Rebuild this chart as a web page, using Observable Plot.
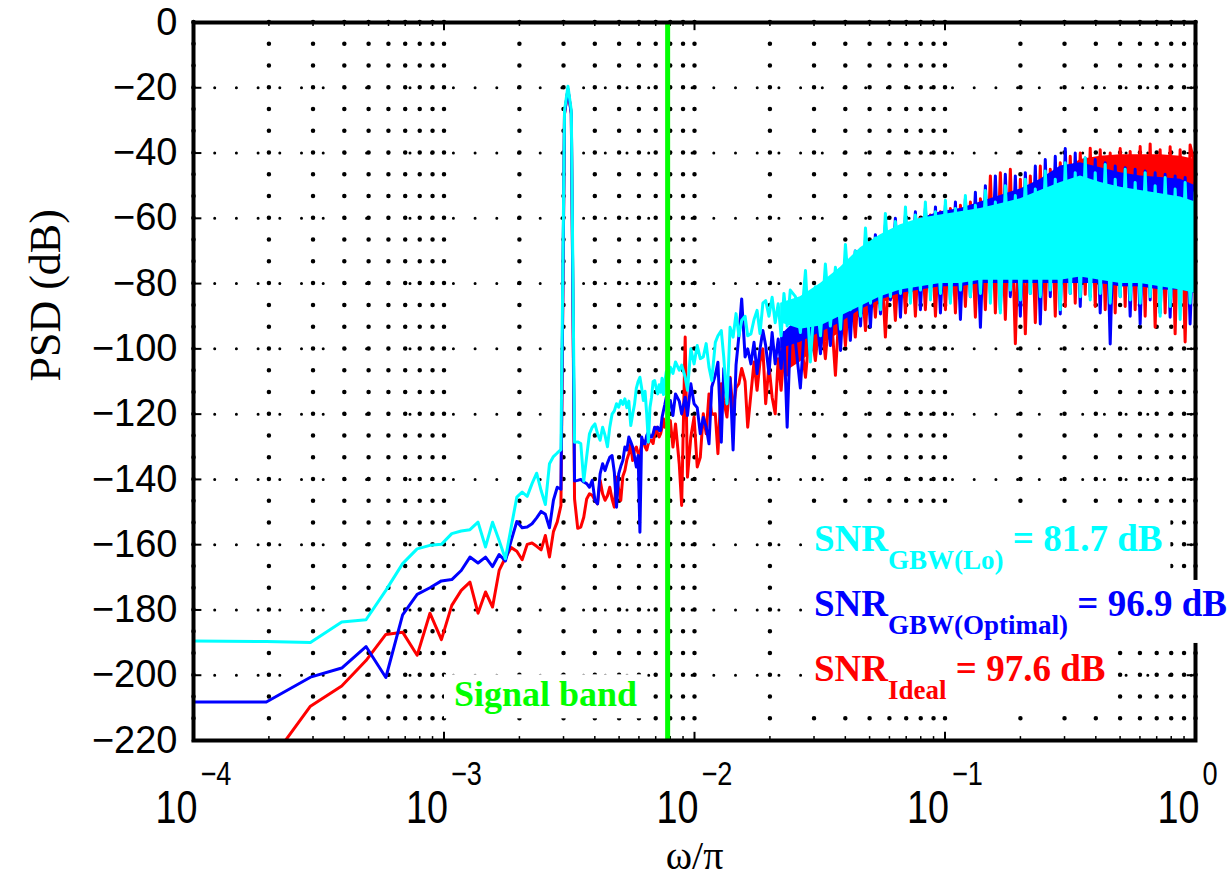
<!DOCTYPE html>
<html><head><meta charset="utf-8">
<script src="https://cdn.jsdelivr.net/npm/d3@7"></script>
<script src="https://cdn.jsdelivr.net/npm/@observablehq/plot@0.6"></script>
<style>body{margin:0;background:#fff}</style>
</head><body><div id="chart"></div>
<script>
// ---------- DATA ----------
const FFT_BINS = 10240;            // ω/π = bin / FFT_BINS
const signalBandEdge = 0.0078125;  // ω/π = 1/OSR
const yTicks = [0, -20, -40, -60, -80, -100, -120, -140, -160, -180, -200, -220];
const majorX = [1e-4, 1e-3, 1e-2, 1e-1, 1];
const xTickExponents = ["\u22124", "\u22123", "\u22122", "\u22121", "0"];

const binsLow = [1,2,3,4,5,6,7,8,9,10,11,12,13,14,15,16,17,18,19,20,21,22,23,24,25,26,27,28,29,30,
  31,32,33,34,35,36,37,38,39,40,41,42,43,44,45,46,47,48,49,50,51,52,53,54,55,56,57,58,59,60,
  61,62,63,64,65,66,67,68,69,70,71,72,73,74,75,76,77,78,79,80];
const binsMid = [82,84,86,89,91,94,96,99,102,105,108,111,114,117,120,124,127,131,134,138,142,146,150,154,158,
  163,167,172,177,182,187,192,197,203,209,215,221,227,233,240,247];
const binsDense = [259,271,284,297,311,326,341,357,374,392,410,429,449,471,493,516,540,566,592,620,
  649,680,712,745,780,817,855,896,938,982,1028,1076,1127,1180,1235,1293,1354,1418,1484,1554,
  1627,1703,1783,1867,1955,2047,2143,2243,2349,2459,2574,2695,2822,2954,3093,3238,3390,3550,3716,3891,
  4074,4265,4465,4675,4895,5125,5365,5617,5881,6158,6447,6750,7067,7399,7747,8111,8492,8891,9309,9746,10204];
const bandBins = [226,271,326,392,471,566,680,818,983,1181,1419,1706,2050,2464,2962,3558,4277,5140,6177,7425,8924,10240];

// Ideal (red)
const redLow = [-235,-228,-209.5,-203.3,-195.5,-187.5,-186.8,-193.9,-181,-189.1,
  -178.6,-174,-171.5,-181,-174.5,-179.1,-167.9,-164,-160.9,-162,
  -164.6,-159.9,-159.5,-160.5,-161.6,-157.2,-163.8,-156,-153,-148,
  -28,-20.5,-28,-146,-155,-154.6,-151.6,-146,-144.4,-144.9,
  -146.4,-147.5,-140.3,-144.4,-146.4,-145,-142.4,-146,-148.5,-139.3,
  -143,-146.4,-139,-137.3,-134,-132.1,-129.1,-134.2,-131,-130.1,
  -132,-132.1,-129,-128.1,-130,-131,-129,-128,-128,-129,
  -126,-124,-126,-127,-126,-124,-121.4,-124,-123,-124];
const redMid = [-122,-130.1,-123,-135.2,-148,-96.4,-139.3,-127,-120.9,-136.2,
  -133.2,-119.9,-126,-113.8,-120,-119.9,-132.1,-110.7,-116,-120.9,
  -108.7,-118.9,-112,-110.7,-106,-110,-124,-113.8,-104,-112.7,
  -104,-100,-116.8,-105,-114.8,-119.9,-103,-112.7,-101,-108,-103.6];
const redDense = [-103.6,-96,-108.7,-92,-103.6,-88,-103,-85,-108.1,-80,
  -99,-77,-96.4,-73,-94.4,-70,-90.3,-68,-96.4,-66,
  -91.3,-64,-89,-62,-90,-60,-88,-59,-90,-58,
  -88,-57,-89,-56,-87,-55,-90.3,-54,-88,-47,
  -89,-46,-91,-45,-98.4,-48,-95.4,-47,-92,-44,
  -88,-45,-90,-43,-87,-41,-86,-40,-83.3,-38.5,
  -87,-39,-88,-40,-89,-38.6,-87,-39.5,-88,-38,
  -90,-37.2,-93.4,-39,-89,-38.1,-95.4,-39,-97.9,-37.5,-44];
const redBandHi = [-100,-95,-89,-83,-76,-70,-66,-62,-60,-58,-56,-54,-52,-49,-46,-42,-41,-40.5,-40.5,-40.5,-41,-42];
const redBandLo = [-108,-104,-99,-95,-90,-86,-84,-82,-81,-81,-80,-80,-80,-80,-80,-80,-80,-81,-81,-82,-82,-83];

// GBW(Optimal) (blue)
const blueLow = [-208.2,-208.2,-200.6,-197.8,-191.2,-200.7,-181.5,-175.2,-173.2,-171.1,
  -170.7,-167.9,-163.8,-165.6,-163.8,-166.7,-163,-165,-158.7,-152.9,
  -154.8,-154.6,-153.6,-151.8,-149.8,-150.7,-154.8,-146.4,-142.4,-143,
  -28,-20.5,-28,-140.5,-140.3,-140,-140.8,-141.3,-142.4,-140.3,
  -146.4,-147.5,-138.3,-135.2,-137.3,-135,-133.2,-132.7,-137.8,-148.5,
  -138.3,-136,-134.2,-130.1,-131,-127,-128.5,-130.1,-133,-136.2,
  -132.7,-156.2,-127,-129,-129.1,-126.5,-125.5,-127,-127,-126,
  -124,-124.5,-124,-125,-125,-121,-118.9,-117,-114.8,-115.8];
const blueMid = [-115.8,-120.4,-113.8,-116,-119.9,-114.8,-120.4,-110.7,-116.8,-118,
  -126,-121,-124,-129.1,-111.7,-108,-104.1,-128.6,-106,-116.8,
  -109,-131,-105,-96,-84.7,-102.5,-100,-104.6,-98,-107.6,
  -100,-94.4,-99,-107.6,-95,-104.6,-97,-106,-95,-124,-96];
const blueDense = [-98,-112,-88,-102,-86,-101.5,-82,-99,-78,-100.5,
  -74,-97.4,-70,-93,-68,-93.3,-65,-89.3,-62,-85,
  -60,-90.3,-59,-84,-58,-88,-57,-83,-56.5,-89,
  -56,-85,-55,-91,-54,-84,-52,-93.4,-50,-83,
  -47,-88,-46.5,-84,-47,-90,-46,-83,-44,-92.4,
  -42,-84,-41,-89.3,-38.6,-83,-40,-87,-41.5,-84,
  -42,-89,-43,-98.5,-44,-84,-44.5,-90,-45,-92.4,
  -45.5,-85,-46,-89,-46.5,-90.3,-47,-84,-47.5,-92.4,-49];
const blueBandHi = [-96,-90,-85,-78,-72,-67,-63,-60,-58,-57,-55,-53,-51,-48,-44,-43,-44.5,-46,-47,-47.5,-48,-50];
const blueBandLo = [-100,-98,-95,-92,-88,-85,-83,-82,-81,-81,-80,-80,-80,-80,-80,-80,-80,-81,-81,-82,-82,-83];

// GBW(Lo) (cyan)
const cyanLow = [-189.5,-189.7,-190,-183.7,-183,-174,-165.8,-161.3,-160.2,-159.9,
  -156.6,-155.8,-155.4,-153.1,-160.7,-153.1,-158.7,-164.3,-154.6,-145.4,
  -143.9,-145.2,-141.3,-138.1,-143.4,-147.7,-135.2,-133,-131.9,-130.9,
  -27,-19.5,-27,-128.6,-128.5,-129,-140.5,-133,-126,-124,
  -123,-126,-128,-124,-126.5,-130,-124,-120,-119,-116.8,
  -117.9,-115.8,-117,-115.3,-118,-116,-123.5,-120,-117,-112,
  -110,-108.7,-112,-115.8,-113,-120,-128.6,-118,-114.8,-110,
  -109.7,-112,-113.8,-111,-113.3,-109,-114,-110,-107,-111];
const cyanMid = [-105.6,-107.5,-104,-106.5,-105,-108.7,-112.7,-100,-104.6,-99,
  -103,-102.5,-98.4,-105.6,-109.7,-98,-96,-94.4,-102.5,-116.8,
  -93.4,-96.4,-89.2,-96,-91.3,-90,-96,-95.4,-91,-88.2,
  -95.3,-86,-85.2,-90,-84.2,-92,-86.2,-96,-83,-93,-82];
const cyanDense = [-84,-95,-76,-104,-81,-96,-74,-93,-75,-94,
  -68,-88,-70,-90,-63,-86,-66,-88,-58.5,-84,
  -61,-83,-56.5,-86,-59,-82,-55,-85,-58,-83,
  -54.5,-86,-57,-82,-53,-84,-56,-83,-51.5,-86,
  -55,-89,-50,-82,-53,-85,-48,-83,-51,-84,
  -45.5,-82,-48,-88,-43,-83,-46,-84,-41.5,-85,
  -46,-83,-43.5,-86,-48,-84,-45,-85,-49,-86,
  -46,-84,-50,-90,-47.5,-87,-51,-91,-49,-86,-52];
const cyanBandHi = [-86,-84,-80,-75,-69,-65,-62,-60,-59,-58,-57,-55.5,-54,-51.5,-49,-47,-49,-50.5,-51.5,-52.5,-53.5,-55];
const cyanBandLo = [-92,-94,-93,-90,-87,-84,-82,-81,-80,-80,-79,-79,-79,-79,-79,-78,-79,-80,-80,-81,-82,-83];

const snrNames = ["GBW(Lo)", "GBW(Optimal)", "Ideal"];
const snrValues = ["81.7", "96.9", "97.6"];
const snrColors = ["#00ffff", "#0000ff", "#ff0000"];
const snrRows = [-160, -180, -200];
const signalBandLabel = "Signal band";
const yAxisLabel = "PSD (dB)";
const xAxisLabel = "\u03c9/\u03c0";

// ---------- BUILD ----------
const toPts = (bins, vals) => bins.map((k, i) => ({w: k / FFT_BINS, db: vals[i]}));
const seriesData = (low, mid, dense) => [...toPts(binsLow, low), ...toPts(binsMid, mid), ...toPts(binsDense, dense)];
const bandData = (hi, lo) => bandBins.map((k, i) => ({w: k / FFT_BINS, hi: hi[i], lo: lo[i]}));

const red = seriesData(redLow, redMid, redDense);
const blue = seriesData(blueLow, blueMid, blueDense);
const cyan = seriesData(cyanLow, cyanMid, cyanDense);

const gridX = d3.scaleLog().domain([1e-4, 1]).ticks();
const minorX = gridX.filter(d => !majorX.some(m => Math.abs(m - d) / m < 1e-9));
const expMap = new Map(majorX.map((d, i) => [d, xTickExponents[i]]));
const snr = snrNames.map((n, i) => ({label: `SNR|${n}| = ${snrValues[i]} dB`, y: snrRows[i], color: snrColors[i]}));

const SANS = "'Liberation Sans', Arial, Helvetica, sans-serif";
const SERIF = "'Liberation Serif', 'Times New Roman', Times, serif";

const lineOpts = (c) => ({x: "w", y: "db", stroke: c, strokeWidth: 3, strokeLinejoin: "round", clip: true});
const bandOpts = (c) => ({x: "w", y1: "lo", y2: "hi", fill: c, clip: true});

const chart = Plot.plot({
  width: 1231, height: 873,
  marginLeft: 193, marginRight: 36, marginTop: 22, marginBottom: 133,
  x: {type: "log", domain: [1e-4, 1], label: null},
  y: {domain: [-220, 0], label: null},
  style: {fontFamily: SANS, background: "white", overflow: "visible", color: "black"},
  marks: [
    Plot.ruleX(gridX, {stroke: "black", strokeWidth: 4.5, strokeDasharray: "0,21.76", strokeLinecap: "round"}),
    Plot.ruleY(yTicks, {stroke: "black", strokeWidth: 3, strokeDasharray: "0,21.7", strokeLinecap: "round"}),
    // inward ticks
    Plot.ruleY(yTicks, {x1: 1e-4, x2: 1.08e-4, stroke: "black", strokeWidth: 2}),
    Plot.ruleY(yTicks, {x1: 0.926, x2: 1, stroke: "black", strokeWidth: 2}),
    Plot.ruleX(majorX, {y1: -220, y2: -217.5, stroke: "black", strokeWidth: 2}),
    Plot.ruleX(majorX, {y1: -2.5, y2: 0, stroke: "black", strokeWidth: 2}),
    Plot.ruleX(minorX, {y1: -220, y2: -218.8, stroke: "black", strokeWidth: 1.5}),
    Plot.ruleX(minorX, {y1: -1.2, y2: 0, stroke: "black", strokeWidth: 1.5}),
    // data
    Plot.areaY(bandData(redBandHi, redBandLo), bandOpts("#ff0000")),
    Plot.line(red, lineOpts("#ff0000")),
    Plot.areaY(bandData(blueBandHi, blueBandLo), bandOpts("#0000ff")),
    Plot.line(blue, lineOpts("#0000ff")),
    Plot.areaY(bandData(cyanBandHi, cyanBandLo), bandOpts("#00ffff")),
    Plot.line(cyan, lineOpts("#00ffff")),
    Plot.ruleX([signalBandEdge], {stroke: "#00ff00", strokeWidth: 5}),
    Plot.frame({stroke: "black", strokeWidth: 4}),
    // axes
    Plot.axisY(yTicks, {anchor: "left", tickSize: 0, tickPadding: 16, fontSize: 38, fontFamily: SANS,
      tickFormat: d => d === 0 ? "0" : "\u2212" + Math.abs(d)}),
    Plot.axisX(majorX, {anchor: "bottom", tickSize: 0, tickPadding: 50, fontSize: 46, fontFamily: SANS,
      tickFormat: () => "10", textAnchor: "end", dx: 4}),
    Plot.axisX(majorX, {anchor: "bottom", tickSize: 0, tickPadding: 21, fontSize: 33, fontFamily: SANS,
      tickFormat: d => expMap.get(d), textAnchor: "start", dx: 7}),
    Plot.text([yAxisLabel], {frameAnchor: "left", dx: -148, rotate: -90, fontSize: 44, fontFamily: SERIF}),
    Plot.text([xAxisLabel], {frameAnchor: "bottom", dy: 128, fontSize: 40, fontFamily: SERIF}),
    // annotations
    Plot.text([signalBandLabel], {x: 1e-3, y: -206, dx: 10, textAnchor: "start", lineAnchor: "middle",
      fontSize: 36, fontWeight: "bold", fontFamily: SERIF, fill: "#00ff00"}),
    Plot.text(snr, {x: 0.03, y: "y", text: "label", fill: "color", textAnchor: "start", lineAnchor: "bottom", dy: 6,
      fontSize: 37, fontWeight: "bold", fontFamily: SERIF})
  ]
});

document.getElementById("chart").append(chart);

const NS = "http://www.w3.org/2000/svg";
const allText = Array.from(chart.querySelectorAll("text"));

// serif axis titles
allText.filter(t => t.textContent === yAxisLabel || t.textContent === xAxisLabel)
  .forEach(t => { t.style.fontFamily = SERIF; });

// condensed x tick labels (10 and exponents), Helvetica-Narrow look
function squeeze(t, s) {
  const w = t.getComputedTextLength();
  t.setAttribute("textLength", (w * s).toFixed(1));
  t.setAttribute("lengthAdjust", "spacingAndGlyphs");
}
const fsOf = t => { const g = t.closest("[font-size]"); return g ? g.getAttribute("font-size") : ""; };
allText.filter(t => t.textContent === "10" && fsOf(t) === "46").forEach(t => squeeze(t, 0.82));
allText.filter(t => xTickExponents.includes(t.textContent) && fsOf(t) === "33").forEach(t => squeeze(t, 0.82));

// subscripts
const snrTexts = allText.filter(t => t.textContent.includes("|"));
snrTexts.forEach(t => {
  const [a, b, c] = t.textContent.split("|");
  t.textContent = "";
  const t1 = document.createElementNS(NS, "tspan"); t1.textContent = a;
  const t2 = document.createElementNS(NS, "tspan"); t2.textContent = b;
  t2.setAttribute("dy", "18"); t2.setAttribute("font-size", "27");
  const t3 = document.createElementNS(NS, "tspan"); t3.textContent = c;
  t3.setAttribute("dy", "-18");
  t.append(t1, t2, t3);
});

// white text boxes
function addBox(t, px, pt, pb) {
  const b = t.getBBox();
  const r = document.createElementNS(NS, "rect");
  r.setAttribute("x", b.x - px);
  r.setAttribute("y", b.y - pt);
  r.setAttribute("width", b.width + 2 * px);
  r.setAttribute("height", b.height + pt + pb);
  r.setAttribute("fill", "white");
  const tr = t.getAttribute("transform");
  if (tr) r.setAttribute("transform", tr);
  t.parentNode.insertBefore(r, t);
}
snrTexts.forEach(t => addBox(t, 8, 3, 3));
allText.filter(t => t.textContent === signalBandLabel).forEach(t => addBox(t, 10, 0, 4));
</script>
</body></html>
